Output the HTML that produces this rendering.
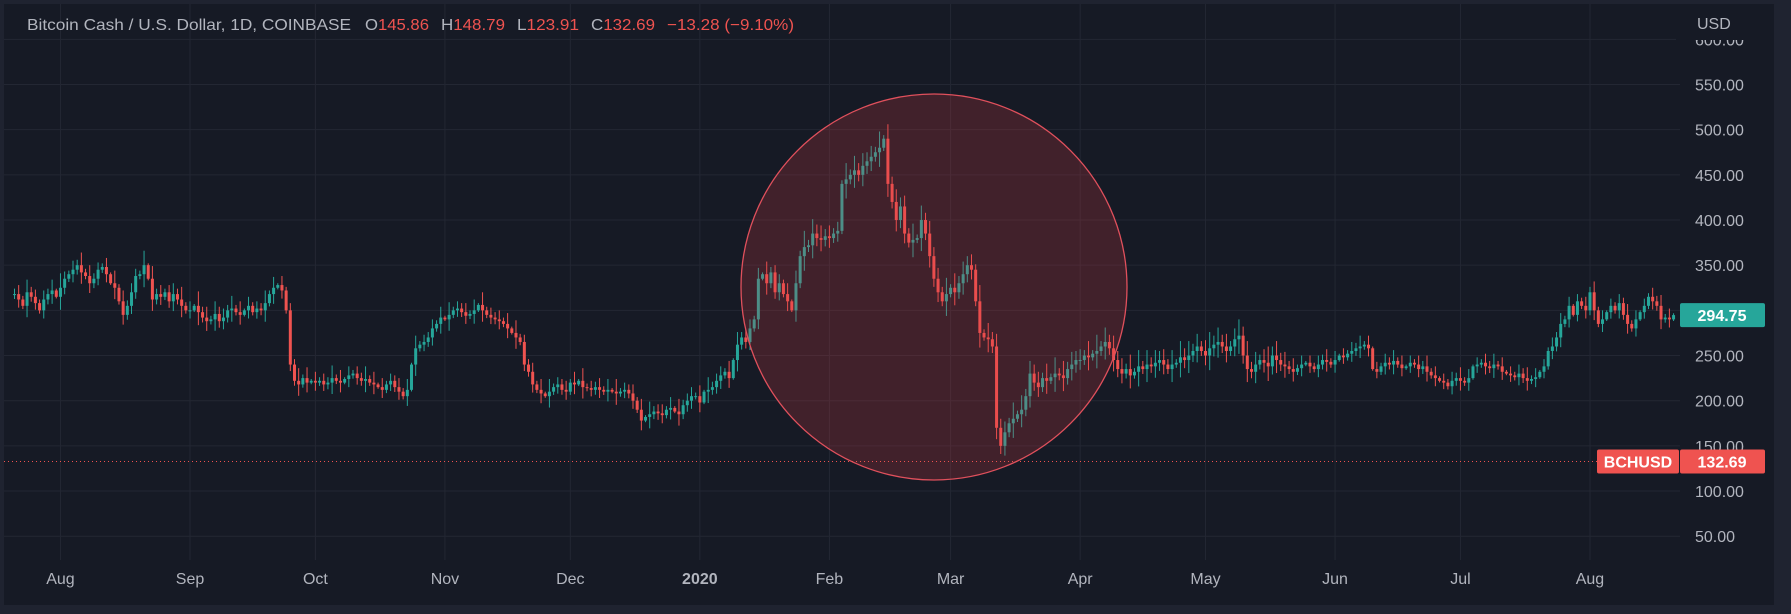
<!DOCTYPE html>
<html><head><meta charset="utf-8">
<style>
html,body{margin:0;padding:0;background:#1f2330;}
svg{display:block;font-family:"Liberation Sans",sans-serif;}
</style></head>
<body>
<svg id="chart" width="1791" height="614" viewBox="0 0 1791 614">
<rect x="0" y="0" width="1791" height="614" fill="#1f2330"/>
<rect x="4" y="4" width="1770" height="601" fill="#161a25"/>
<g id="grid"></g>
<g id="candles"></g>
<circle cx="934" cy="287" r="193" fill="rgba(220,60,70,0.22)" stroke="#e0505c" stroke-width="1.3"/>
<line id="lastline" x1="4" x2="1680" stroke="#ef5350" stroke-width="1" stroke-dasharray="1,3"/>
<g id="yaxis"></g>
<g id="xaxis"></g>
<rect x="1676" y="4" width="98" height="36" fill="#161a25"/>
<text x="1697" y="29" fill="#b2b5be" font-size="16">USD</text>
<g font-size="16" fill="#b2b5be">
<text x="27" y="30" textLength="324" lengthAdjust="spacingAndGlyphs">Bitcoin Cash / U.S. Dollar, 1D, COINBASE</text>
<text x="365" y="30" textLength="64" lengthAdjust="spacingAndGlyphs">O<tspan fill="#ef5350">145.86</tspan></text>
<text x="441" y="30" textLength="64" lengthAdjust="spacingAndGlyphs">H<tspan fill="#ef5350">148.79</tspan></text>
<text x="517" y="30" textLength="62" lengthAdjust="spacingAndGlyphs">L<tspan fill="#ef5350">123.91</tspan></text>
<text x="591" y="30" textLength="64" lengthAdjust="spacingAndGlyphs">C<tspan fill="#ef5350">132.69</tspan></text>
<text x="667" y="30" fill="#ef5350" textLength="127" lengthAdjust="spacingAndGlyphs">−13.28 (−9.10%)</text>
</g>
<g id="labels"></g>
</svg>
<script>
const tickPrices=[600,550,500,450,400,350,300,250,200,150,100,50];
const monthLabels=["Aug","Sep","Oct","Nov","Dec","2020","Feb","Mar","Apr","May","Jun","Jul","Aug"];
const monthStartIdx=[11,42,72,103,133,164,195,224,255,285,316,346,377];
const lastPrice=294.75;
const symbolPrice=132.69;
const closes=[
318,312,305,320,315,308,300,312,318,322,315,
325,335,340,345,350,342,338,330,335,345,348,340,330,325,310,295,305,320,338,340,350,335,312,318,315,320,310,318,312,305,300,
300,305,298,292,288,290,296,288,292,300,302,298,295,300,305,298,302,300,308,318,325,328,322,300,240,222,218,225,220,222,
220,222,218,220,225,222,220,224,228,230,225,222,224,220,218,215,212,218,222,215,210,205,212,240,258,262,265,270,280,285,292,
290,295,300,302,298,294,296,300,306,300,295,292,290,288,285,280,275,270,265,240,232,218,212,208,205,210,215,218,212,210,
220,218,222,215,214,212,215,212,210,212,210,208,210,212,208,200,190,178,182,185,188,186,184,190,192,188,185,195,200,205,205,
198,210,212,215,222,228,232,225,245,262,270,265,280,290,335,340,330,342,320,330,318,310,300,330,360,370,372,385,380,378,382,
380,385,388,440,445,450,455,450,460,465,470,475,480,490,440,420,400,415,385,375,378,380,400,385,360,335,320,310,318,
325,320,330,340,350,345,310,275,270,268,260,170,150,165,175,180,185,190,205,230,220,215,225,222,226,230,228,225,235,240,245,
245,250,248,252,255,260,265,258,245,235,230,235,228,232,238,235,240,238,242,245,240,235,240,242,248,245,250,255,260,255,
250,258,262,265,260,255,260,268,272,250,235,232,240,245,242,238,250,245,240,238,235,232,236,240,242,238,235,240,245,243,240,
245,250,248,252,255,258,260,262,258,235,232,238,242,240,244,240,236,238,242,240,235,238,232,228,225,222,220,216,222,225,
222,220,225,238,240,242,238,236,240,238,232,230,228,226,230,225,222,224,226,232,238,255,260,270,285,290,305,295,310,305,300,
320,300,285,290,298,305,300,308,295,285,280,290,298,305,315,310,305,290,292,290,294.75];
const wickStr="35273425361842537263425172635428173524637251836274537261524372615243726152437261524372615243526172435261724352617243526172435261724352617243526172435261734526173452617345261734526173452617393857463529384756392847563928475639284756392847563928475638293847563829384756382938475638295847369584736958473695847362514253625142536251425362514253625142536251425362514253625142536251425362514253625142536251425362514253625142536251425362514253625142536251425362514253625142536251425362594637485946374859463748594637485946";
const openFirst=318;

const NS="http://www.w3.org/2000/svg";
const X0=14.5, DX=4.179, PLOT_R=1680;
function xAt(i){return X0+i*DX;}
function yAt(p){return 84.5+(550-p)*0.9034;}
function mk(tag,attrs,parent){const e=document.createElementNS(NS,tag);for(const k in attrs)e.setAttribute(k,attrs[k]);parent.appendChild(e);return e;}

const grid=document.getElementById('grid');
tickPrices.forEach(p=>{const l=mk('line',{x1:4,x2:PLOT_R,y1:yAt(p),y2:yAt(p),stroke:'#232733','stroke-width':1},grid);

});
monthStartIdx.forEach(i=>{const l=mk('line',{x1:xAt(i),x2:xAt(i),y1:4,y2:560,stroke:'#232733','stroke-width':1},grid);

});

const yaxis=document.getElementById('yaxis');
tickPrices.forEach(p=>{const t=mk('text',{x:1695,y:yAt(p)+6,fill:'#b2b5be','font-size':16},yaxis);t.textContent=p.toFixed(2);

});
const xaxis=document.getElementById('xaxis');
monthLabels.forEach((m,k)=>{const t=mk('text',{x:xAt(monthStartIdx[k]),y:584,fill:'#b2b5be','font-size':16,'text-anchor':'middle','font-weight':m==='2020'?'bold':'normal'},xaxis);t.textContent=m;

});

const cg=document.getElementById('candles');
let prev=openFirst;
closes.forEach((c,i)=>{
  const o=prev; prev=c;
  const w=(parseInt(wickStr[i%wickStr.length])||3)*2;
  const hi=Math.max(o,c)+w, lo=Math.min(o,c)-w*0.9;
  const col=c>=o?'#26a69a':'#ef5350';
  const x=xAt(i);
  const wl=mk('line',{x1:x,x2:x,y1:yAt(hi),y2:yAt(lo),stroke:col,'stroke-width':1},cg);
  
  
  const top=yAt(Math.max(o,c)),bot=yAt(Math.min(o,c));
  const b=mk('rect',{x:x-1.5,y:top,width:3,height:Math.max(1,bot-top),fill:col},cg);
  
  
});

const ll=document.getElementById('lastline');
ll.setAttribute('y1',yAt(symbolPrice));ll.setAttribute('y2',yAt(symbolPrice));

const lab=document.getElementById('labels');
const gy=yAt(lastPrice);
const g1=mk('rect',{x:1680,y:gy-12,width:85,height:24,fill:'#26a69a',rx:2},lab);


const g1t=mk('text',{x:1722,y:gy+6,fill:'#fff','font-size':16,'font-weight':'bold','text-anchor':'middle'},lab);g1t.textContent=lastPrice.toFixed(2);


const ry=yAt(symbolPrice);
const r1=mk('rect',{x:1597,y:ry-12,width:82,height:24,fill:'#ef5350',rx:2},lab);


const r1t=mk('text',{x:1638,y:ry+6,fill:'#fff','font-size':16,'font-weight':'bold','text-anchor':'middle'},lab);r1t.textContent='BCHUSD';


const r2=mk('rect',{x:1680,y:ry-12,width:85,height:24,fill:'#ef5350',rx:2},lab);


const r2t=mk('text',{x:1722,y:ry+6,fill:'#fff','font-size':16,'font-weight':'bold','text-anchor':'middle'},lab);r2t.textContent=symbolPrice.toFixed(2);


</script>
</body></html>
